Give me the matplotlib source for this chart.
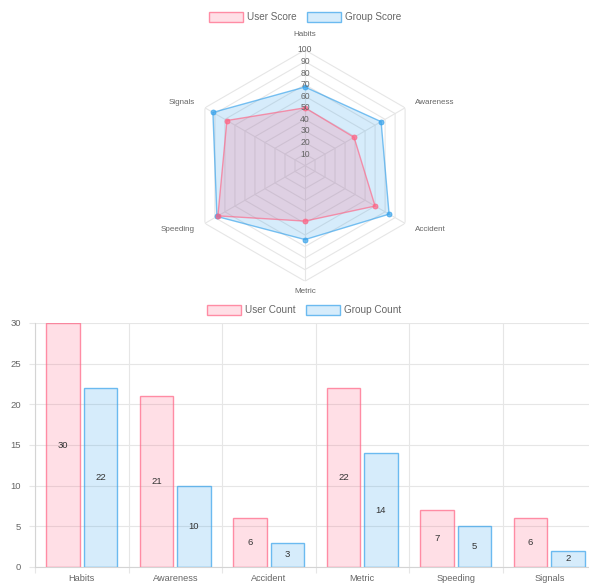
import numpy as np
import matplotlib
matplotlib.use("Agg")
import matplotlib.pyplot as plt
from matplotlib.patches import Patch

plt.rcParams['font.family'] = ['Liberation Sans', 'DejaVu Sans']

# ---- data ----
categories = ["Habits", "Awareness", "Accident", "Metric", "Speeding", "Signals"]
user_score = [50, 49, 70, 48, 87, 78]
group_score = [68, 76, 84, 64, 88, 92]
user_count = [30, 21, 6, 22, 7, 6]
group_count = [22, 10, 3, 14, 5, 2]
radar_ticks = [10, 20, 30, 40, 50, 60, 70, 80, 90, 100]
count_ticks = [0, 5, 10, 15, 20, 25, 30]

PINK = (255/255, 99/255, 132/255)
BLUE = (54/255, 162/255, 235/255)
TEXT = "#666666"
GRID = "#e6e6e6"

W, H = 589, 586
fig = plt.figure(figsize=(W/100, H/100), dpi=100)
fig.patch.set_facecolor("white")

def fx(px):
    return px / W

def fy(py):
    return 1 - py / H

# ---- radar chart ----
cx, cy, rad = 305, 165.6, 115.6
rax = fig.add_axes([fx(cx - rad), fy(cy + rad), 2 * rad / W, 2 * rad / H],
                   projection="polar")
rax.set_theta_offset(np.pi / 2)
rax.set_theta_direction(-1)
rax.set_ylim(0, 100)
rax.grid(False)
rax.set_xticks([])
rax.set_yticks([])
rax.spines["polar"].set_visible(False)
rax.patch.set_alpha(0)

n = len(categories)
angles = np.linspace(0, 2 * np.pi, n, endpoint=False)
closed = np.concatenate([angles, angles[:1]])

for r in radar_ticks:
    rax.plot(closed, [r] * (n + 1), color=GRID, lw=0.8, zorder=1)
for a in angles:
    rax.plot([a, a], [0, 100], color=GRID, lw=0.8, zorder=1)

for vals, col in [(group_score, BLUE), (user_score, PINK)]:
    v = np.array(vals + vals[:1], dtype=float)
    rax.fill(closed, v, color=col + (0.2,), lw=0, zorder=2)
    rax.plot(closed, v, color=col + (0.65,), lw=1.0, zorder=3)
    rax.plot(angles, vals, "o", ms=3.6, color=col + (0.7,), mec=col + (0.8,),
             mew=0.6, zorder=4)

for r in radar_ticks:
    rax.text(0, r, str(r), ha="center", va="center", fontsize=6.2,
             color=TEXT, zorder=5)

label_pos = [(113, "center"), (110, "left"), (110, "left"),
             (109, "center"), (110, "right"), (110, "right")]
for a, name, (r, ha) in zip(angles, categories, label_pos):
    rax.text(a, r, name, ha=ha, va="center", fontsize=5.8, color=TEXT,
             clip_on=False)

radar_handles = [
    Patch(facecolor=PINK + (0.2,), edgecolor=PINK + (0.7,), lw=1,
          label="User Score"),
    Patch(facecolor=BLUE + (0.2,), edgecolor=BLUE + (0.7,), lw=1,
          label="Group Score"),
]
fig.legend(handles=radar_handles, loc="center", bbox_to_anchor=(fx(305), fy(17)),
           ncol=2, frameon=False, fontsize=7.2, handlelength=3.4,
           handleheight=1.1, handletextpad=0.4, columnspacing=1.0,
           labelcolor=TEXT, borderpad=0)

# ---- bar chart ----
left, right, top, bottom = 35, 596, 323, 567
bax = fig.add_axes([fx(left), fy(bottom), (right - left) / W, (bottom - top) / H])
x = np.arange(n)
bw = 0.36
b1 = bax.bar(x - 0.2, user_count, bw, color=PINK + (0.2,),
             edgecolor=PINK + (0.7,), lw=1, zorder=3)
b2 = bax.bar(x + 0.2, group_count, bw, color=BLUE + (0.2,),
             edgecolor=BLUE + (0.7,), lw=1, zorder=3)
for bars, vals in [(b1, user_count), (b2, group_count)]:
    for rect, v in zip(bars, vals):
        bax.text(rect.get_x() + rect.get_width() / 2, v / 2, str(v),
                 ha="center", va="center", fontsize=6.8, color="#333333",
                 zorder=4)

bax.set_xlim(-0.5, n - 0.5)
bax.set_ylim(0, 30)
bax.set_yticks(count_ticks)
bax.set_yticklabels([str(t) for t in count_ticks], fontsize=6.8, color=TEXT)
bax.set_xticks(x)
bax.set_xticklabels(categories, fontsize=6.6, color=TEXT)
bax.set_xticks(np.arange(-0.5, n, 1.0), minor=True)
bax.tick_params(axis="x", which="major", length=0, pad=5)
bax.tick_params(axis="x", which="minor", length=4, color=GRID, width=0.8)
bax.tick_params(axis="y", length=4, color=GRID, width=0.8, pad=6)
bax.grid(True, axis="y", color=GRID, lw=0.8, zorder=0)
bax.grid(True, axis="x", which="minor", color=GRID, lw=0.8, zorder=0)
bax.set_axisbelow(True)
for s in ["top", "right"]:
    bax.spines[s].set_visible(False)
for s in ["left", "bottom"]:
    bax.spines[s].set_color("#d4d4d4")
    bax.spines[s].set_linewidth(0.8)

bar_handles = [
    Patch(facecolor=PINK + (0.2,), edgecolor=PINK + (0.7,), lw=1,
          label="User Count"),
    Patch(facecolor=BLUE + (0.2,), edgecolor=BLUE + (0.7,), lw=1,
          label="Group Count"),
]
fig.legend(handles=bar_handles, loc="center", bbox_to_anchor=(fx(304), fy(310)),
           ncol=2, frameon=False, fontsize=7.2, handlelength=3.4,
           handleheight=1.1, handletextpad=0.4, columnspacing=1.0,
           labelcolor=TEXT, borderpad=0)

fig.savefig("out.png", dpi=100, facecolor="white")
